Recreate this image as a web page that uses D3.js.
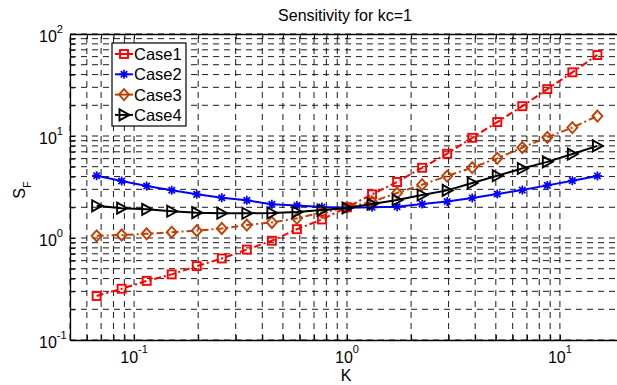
<!DOCTYPE html>
<html>
<head>
<meta charset="utf-8">
<script src="https://cdn.jsdelivr.net/npm/d3@7"></script>
<style>
  body { margin: 0; background: #fff; }
  text { font-family: Arial, "Liberation Sans", Helvetica, sans-serif; fill: #000; }
</style>
</head>
<body>
<div id="chart"></div>
<script>
// data
const kValues = [0.0667, 0.0874, 0.1146, 0.1502, 0.1969, 0.2582, 0.3385, 0.4438, 0.5818, 0.7628, 1,
  1.311, 1.719, 2.253, 2.954, 3.873, 5.078, 6.657, 8.727, 11.44, 15]
const case1 = [0.27, 0.318, 0.38, 0.44, 0.53, 0.63, 0.77, 0.94, 1.22, 1.52, 2.0,
  2.68, 3.54, 4.88, 6.7, 9.6, 13.7, 19.6, 28.8, 42.1, 62.2]
const case2 = [4.08, 3.62, 3.23, 2.94, 2.68, 2.48, 2.34, 2.14, 2.08, 2.01, 1.98,
  2.0, 2.03, 2.15, 2.28, 2.47, 2.7, 2.95, 3.28, 3.65, 4.06]
const case3 = [1.05, 1.07, 1.10, 1.14, 1.18, 1.24, 1.34, 1.42, 1.56, 1.78, 2.0,
  2.27, 2.76, 3.33, 4.05, 4.9, 6.04, 7.7, 9.7, 12.1, 15.7]
const case4 = [2.07, 1.96, 1.91, 1.83, 1.77, 1.75, 1.75, 1.76, 1.8, 1.88, 1.97,
  2.15, 2.36, 2.64, 2.93, 3.46, 4.08, 4.8, 5.58, 6.65, 8.0]
const seriesNames = ['Case1', 'Case2', 'Case3', 'Case4']
const xTickLabels = [0.1, 1, 10]
const yTickLabels = [0.1, 1, 10, 100]

const w = 617, h = 385
// plot box runs a little past the right edge of the window
const box = {left: 70, right: 624, top: 34, bottom: 340}

const svg = d3.select('#chart').append('svg').attr('width', w).attr('height', h)

const xScale = d3.scaleLog().domain([0.05, 20]).range([box.left, box.right])
const yScale = d3.scaleLog().domain([0.1, 100]).range([box.bottom, box.top])

// grid (major + minor, dashed)
let grid = svg.append('g').classed('grid', true)
  .attr('stroke', '#000').attr('stroke-width', 0.9).attr('stroke-dasharray', '6,5')
xScale.ticks().forEach(t => {
  grid.append('line').attr('x1', xScale(t)).attr('x2', xScale(t))
    .attr('y1', box.bottom).attr('y2', box.top)
})
yScale.ticks().forEach(t => {
  grid.append('line').attr('x1', box.left).attr('x2', box.right)
    .attr('y1', yScale(t)).attr('y2', yScale(t))
})

// axes, ticks pointing inward
let noLabel = () => ''
let axes = [
  [d3.axisBottom(xScale), `translate(0, ${box.bottom})`, xScale.ticks()],
  [d3.axisTop(xScale), `translate(0, ${box.top})`, xScale.ticks()],
  [d3.axisLeft(yScale), `translate(${box.left}, 0)`, yScale.ticks()]
]
axes.forEach(([ax, tr, ticks]) => {
  let g = svg.append('g').attr('transform', tr)
    .call(ax.tickValues(ticks).tickSizeInner(-5).tickSizeOuter(0).tickFormat(noLabel))
  g.select('.domain').attr('stroke', '#000').attr('stroke-width', 1.3)
  g.selectAll('line').attr('stroke', '#000')
})

// tick labels as 10^n
const fmtExp = v => String(Math.round(Math.log10(v)))
xTickLabels.forEach(v => {
  let t = svg.append('text').attr('x', xScale(v)).attr('y', 363)
    .attr('text-anchor', 'middle').style('font-size', '16px')
  t.append('tspan').text('10')
  t.append('tspan').text(fmtExp(v)).attr('dy', -10).style('font-size', '11px')
})
yTickLabels.forEach(v => {
  let t = svg.append('text').attr('x', 39).attr('y', yScale(v) + 7.5)
    .attr('text-anchor', 'start').style('font-size', '16px')
  t.append('tspan').text('10')
  t.append('tspan').text(fmtExp(v)).attr('dy', -9).style('font-size', '11px')
})

// markers
const drawMarker = (g, type, cx, cy, color) => {
  let m = g.append('g').attr('transform', `translate(${cx},${cy})`)
    .attr('fill', 'none').attr('stroke', color).attr('stroke-width', 1.9)
  if (type === 'square') {
    m.append('rect').attr('x', -4).attr('y', -4).attr('width', 8).attr('height', 8)
  } else if (type === 'star') {
    m.append('path').attr('stroke-width', 1.7)
      .attr('d', 'M-4.5,0L4.5,0M0,-4.5L0,4.5M-3.2,-3.2L3.2,3.2M-3.2,3.2L3.2,-3.2')
  } else if (type === 'diamond') {
    m.append('path').attr('d', 'M0,-5.5L5,0L0,5.5L-5,0Z')
  } else {
    m.append('path').attr('d', 'M-4.5,-5.5L5.5,0L-4.5,5.5Z')
  }
}

const series = [
  {name: seriesNames[0], values: case1, color: '#ff0000', dash: '7,3,2,3', marker: 'square'},
  {name: seriesNames[1], values: case2, color: '#0000ff', dash: null, marker: 'star'},
  {name: seriesNames[2], values: case3, color: '#c04000', dash: '7,3,2,3', marker: 'diamond'},
  {name: seriesNames[3], values: case4, color: '#000000', dash: null, marker: 'triangle'}
]

let line = d3.line().x((d, i) => xScale(kValues[i])).y(d => yScale(d))
series.forEach(s => {
  let g = svg.append('g').classed('series', true)
  g.append('path').attr('d', line(s.values))
    .attr('fill', 'none').attr('stroke', s.color).attr('stroke-width', 2)
    .attr('stroke-dasharray', s.dash)
  s.values.forEach((v, i) => drawMarker(g, s.marker, xScale(kValues[i]), yScale(v), s.color))
})

// legend
let leg = svg.append('g').classed('legend', true)
leg.append('rect').attr('x', 112).attr('y', 43).attr('width', 74).attr('height', 83)
  .attr('fill', '#fff').attr('stroke', '#000').attr('stroke-width', 1.2)
series.forEach((s, i) => {
  let ly = 54 + i * 20.3
  leg.append('line').attr('x1', 115).attr('x2', 133).attr('y1', ly).attr('y2', ly)
    .attr('stroke', s.color).attr('stroke-width', 2)
  drawMarker(leg, s.marker, 124, ly, s.color)
  leg.append('text').text(s.name).attr('x', 134).attr('y', ly + 6).style('font-size', '16.5px')
})

// titles
svg.append('text').text('Sensitivity for kc=1')
  .attr('x', 345).attr('y', 21).attr('text-anchor', 'middle').style('font-size', '16px')
svg.append('text').text('K')
  .attr('x', 346).attr('y', 381).attr('text-anchor', 'middle').style('font-size', '16px')
let yl = svg.append('text').attr('transform', 'translate(25, 190) rotate(-90)')
  .attr('text-anchor', 'middle').style('font-size', '16px')
yl.append('tspan').text('S')
yl.append('tspan').text('F').attr('dy', 6).style('font-size', '11px')
</script>
</body>
</html>
